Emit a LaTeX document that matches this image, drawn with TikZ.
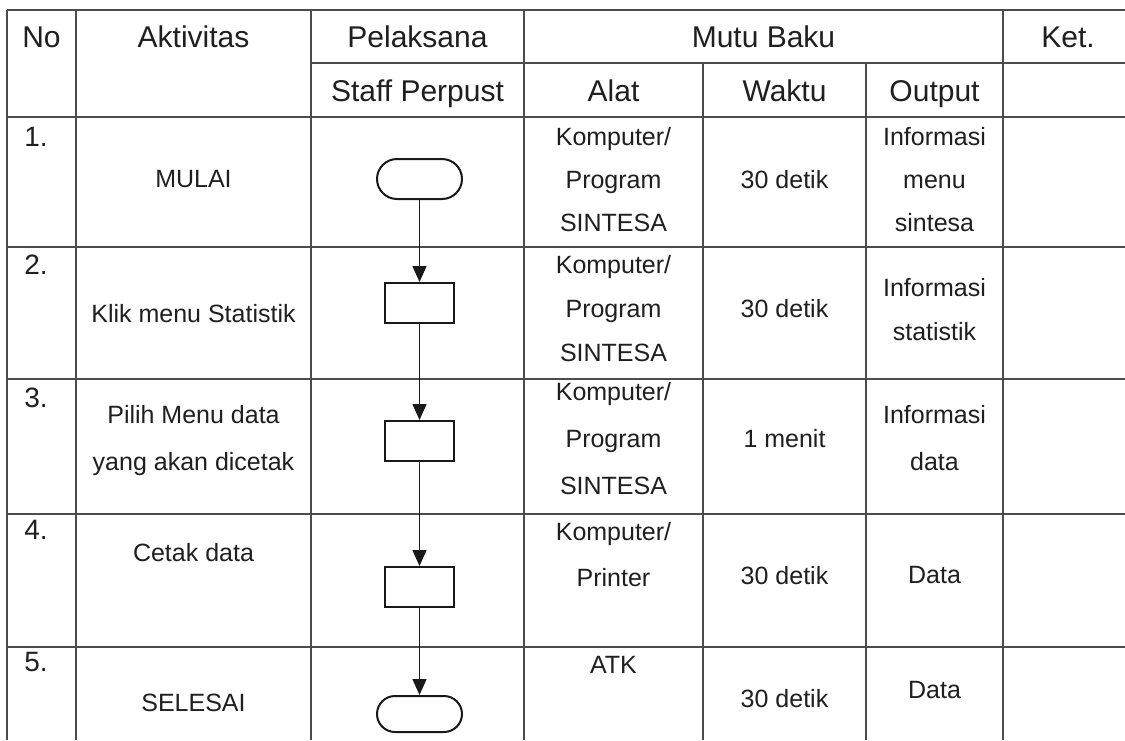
\documentclass[tikz,border=0pt]{standalone}
\usepackage{fontspec}
\setmainfont{Liberation Sans}
\usetikzlibrary{arrows.meta,shapes.misc}
\begin{document}
\begin{tikzpicture}[x=0.5pt,y=-0.5pt,
  gridline/.style={draw=black!70, line width=0.6pt},
  txt/.style={inner sep=0pt, anchor=base, font=\fontsize{12.5}{15}\selectfont, text=black!88},
  hdr/.style={inner sep=0pt, anchor=base, font=\fontsize{15}{18}\selectfont, text=black!88},
  num/.style={inner sep=0pt, anchor=base west, font=\fontsize{14}{17}\selectfont, text=black!88},
  procbox/.style={draw=black!90, line width=1pt, minimum width=34.5pt, minimum height=20pt, inner sep=0pt},
  termbox/.style={draw=black!90, rounded rectangle, line width=1pt, minimum width=42.5pt, minimum height=20pt, inner sep=0pt},
  flow/.style={-{Triangle[length=8pt,width=7pt]}, line width=0.8pt, draw=black!90}]
\useasboundingbox (0,0) rectangle (1125,740);
\fill[white] (0,0) rectangle (1125,740);
% grid
\foreach \x in {7,76,311,524,1003} \draw[gridline] (\x,10) -- (\x,740);
\foreach \x in {703,866} \draw[gridline] (\x,63) -- (\x,740);
\draw[gridline] (7,10) -- (1125,10);
\draw[gridline] (311,63) -- (1125,63);
\foreach \y in {117,247,379,514,647} \draw[gridline] (7,\y) -- (1125,\y);
% header
\node[hdr] (hno) at (41.5,47) {No};
\node[hdr] (hakt) at (193.5,47) {Aktivitas};
\node[hdr] (hpel) at (417.5,47) {Pelaksana};
\node[hdr] (hmutu) at (763.5,47) {Mutu Baku};
\node[hdr] (hket) at (1068,47) {Ket.};
\node[hdr] (hstaff) at (417.5,101) {Staff Perpust};
\node[hdr] (halat) at (613.5,101) {Alat};
\node[hdr] (hwaktu) at (784.5,101) {Waktu};
\node[hdr] (hout) at (934.5,101) {Output};
% numbers
\node[num] (n1) at (24,146) {1.};
\node[num] (n2) at (24,274) {2.};
\node[num] (n3) at (24,407) {3.};
\node[num] (n4) at (24,539) {4.};
\node[num] (n5) at (24,671) {5.};
% activities
\node[txt] (a1) at (193.5,187) {MULAI};
\node[txt] (a2) at (193.5,322) {Klik menu Statistik};
\node[txt] (a3a) at (193.5,423) {Pilih Menu data};
\node[txt] (a3b) at (193.5,470) {yang akan dicetak};
\node[txt] (a4) at (193.5,561) {Cetak data};
\node[txt] (a5) at (193.5,711) {SELESAI};
% alat
\node[txt] (al1a) at (613.5,145) {Komputer/};
\node[txt] (al1b) at (613.5,188) {Program};
\node[txt] (al1c) at (613.5,231) {SINTESA};
\node[txt] (al2a) at (613.5,273) {Komputer/};
\node[txt] (al2b) at (613.5,317) {Program};
\node[txt] (al2c) at (613.5,361) {SINTESA};
\node[txt] (al3a) at (613.5,400) {Komputer/};
\node[txt] (al3b) at (613.5,447) {Program};
\node[txt] (al3c) at (613.5,494) {SINTESA};
\node[txt] (al4a) at (613.5,540) {Komputer/};
\node[txt] (al4b) at (613.5,586) {Printer};
\node[txt] (al5) at (613.5,673) {ATK};
% waktu
\node[txt] (w1) at (784.5,188) {30 detik};
\node[txt] (w2) at (784.5,317) {30 detik};
\node[txt] (w3) at (784.5,447) {1 menit};
\node[txt] (w4) at (784.5,584) {30 detik};
\node[txt] (w5) at (784.5,707) {30 detik};
% output
\node[txt] (o1a) at (934.5,145) {Informasi};
\node[txt] (o1b) at (934.5,188) {menu};
\node[txt] (o1c) at (934.5,231) {sintesa};
\node[txt] (o2a) at (934.5,296) {Informasi};
\node[txt] (o2b) at (934.5,340) {statistik};
\node[txt] (o3a) at (934.5,423) {Informasi};
\node[txt] (o3b) at (934.5,470) {data};
\node[txt] (o4) at (934.5,583) {Data};
\node[txt] (o5) at (934.5,698) {Data};
% flowchart
\node[termbox] (t1) at (419.5,179) {};
\node[procbox] (p2) at (419.5,303) {};
\node[procbox] (p3) at (419.5,441) {};
\node[procbox] (p4) at (419.5,587) {};
\node[termbox, minimum height=18pt] (t5) at (419.5,714) {};
\draw[flow] (t1) -- (p2);
\draw[flow] (p2) -- (p3);
\draw[flow] (p3) -- (p4);
\draw[flow] (p4) -- (t5);
\end{tikzpicture}
\end{document}
